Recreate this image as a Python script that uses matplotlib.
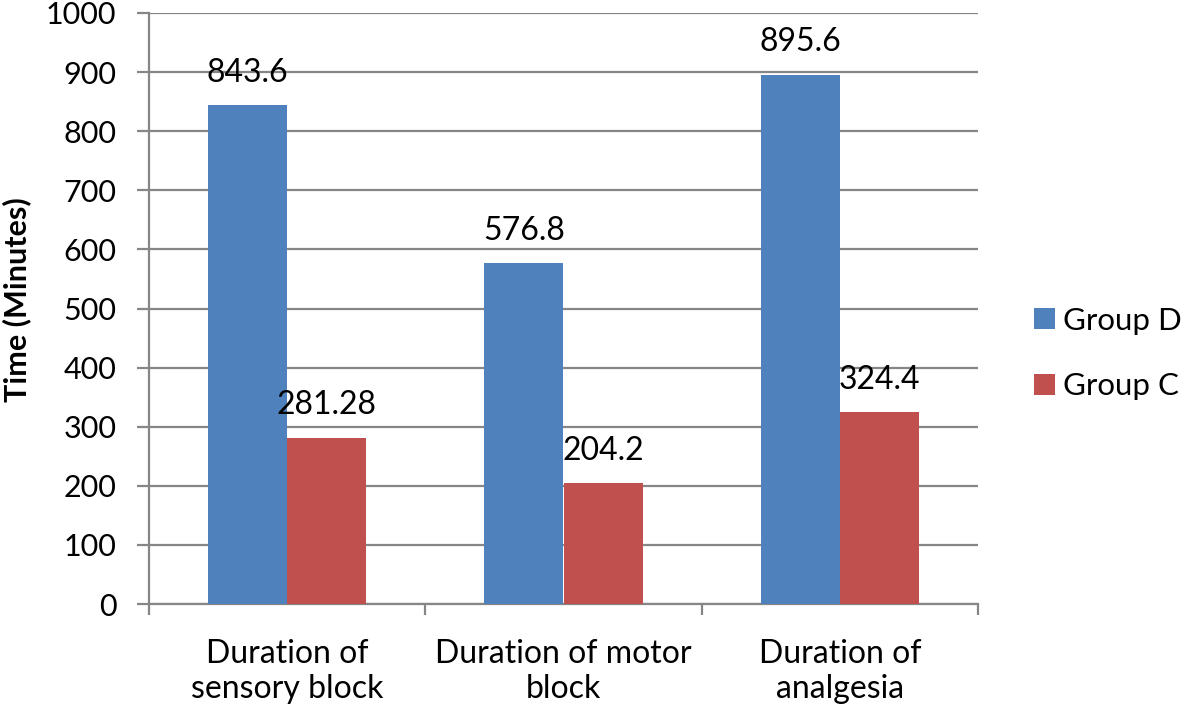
import matplotlib.pyplot as plt
import numpy as np

plt.rcParams['font.family'] = ['Lato', 'DejaVu Sans']

categories = ["Duration of\nsensory block", "Duration of motor\nblock", "Duration of\nanalgesia"]
group_d = [843.6, 576.8, 895.6]
group_c = [281.28, 204.2, 324.4]
value_labels_d = ["843.6", "576.8", "895.6"]
value_labels_c = ["281.28", "204.2", "324.4"]
series_names = ["Group D", "Group C"]
series_colors = ["#4F81BD", "#C0504D"]

grid_color = "#868686"

fig = plt.figure(figsize=(11.81, 7.10), dpi=100)
ax = fig.add_axes([149 / 1181, 1 - 604 / 710, (978 - 149) / 1181, (604 - 13) / 710])

x = np.arange(len(categories))
width = 0.286

bars_d = ax.bar(x - width / 2, group_d, width, color=series_colors[0], label=series_names[0], zorder=3)
bars_c = ax.bar(x + width / 2, group_c, width, color=series_colors[1], label=series_names[1], zorder=3)

# value labels above the bars
for bars, labels in [(bars_d, value_labels_d), (bars_c, value_labels_c)]:
    for bar, txt in zip(bars, labels):
        ax.annotate(txt, (bar.get_x() + bar.get_width() / 2, bar.get_height()),
                    xytext=(0, 17), textcoords='offset points',
                    ha='center', va='baseline', fontsize=23, zorder=4)

ax.set_xlim(-0.5, len(categories) - 0.5)
ax.set_ylim(0, 1000)
ax.set_yticks(np.arange(0, 1001, 100))
ax.yaxis.grid(True, color=grid_color, linewidth=1.6, zorder=0)

# category labels in the middle, tick marks at the boundaries
ax.set_xticks(x)
ax.set_xticklabels(categories, fontsize=23)
ax.set_xticks(np.arange(-0.5, len(categories), 1), minor=True)
ax.tick_params(axis='x', which='major', length=0, pad=25.5)
ax.tick_params(axis='x', which='minor', length=8, width=1.6, color=grid_color, direction='out')
ax.tick_params(axis='y', length=8.5, width=1.6, color=grid_color, direction='out', labelsize=22, pad=15)

for side in ['top', 'right']:
    ax.spines[side].set_visible(False)
for side in ['left', 'bottom']:
    ax.spines[side].set_color(grid_color)
    ax.spines[side].set_linewidth(1.6)

ax.set_ylabel("Time (Minutes)", fontsize=22, fontweight='bold')
ax.yaxis.set_label_coords(-0.142, (604 - 300) / 591)

ax.legend(loc='center left', bbox_to_anchor=(1034 / 1181, 1 - 353.5 / 710),
          bbox_transform=fig.transFigure, frameon=False, fontsize=22.5,
          handlelength=0.67, handleheight=0.67, handletextpad=0.26, labelspacing=1.2,
          borderaxespad=0, borderpad=0)

fig.savefig("out.png", dpi=100)
